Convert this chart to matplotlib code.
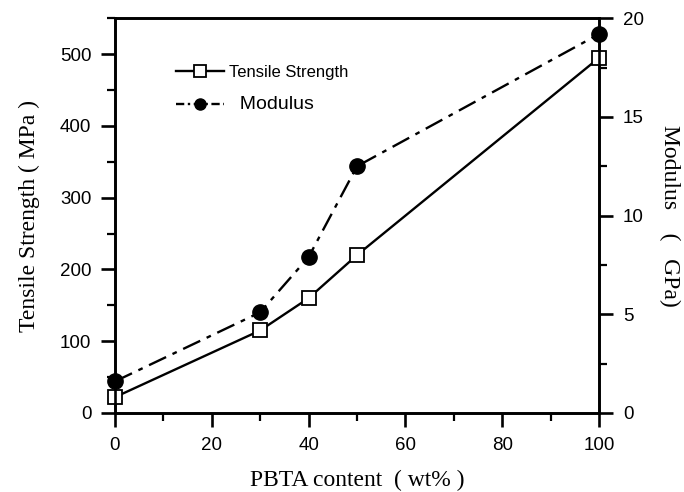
import matplotlib.pyplot as plt
from matplotlib.ticker import MultipleLocator

pbta = [0, 30, 40, 50, 100]
tensile = [22, 115, 160, 220, 495]
modulus = [1.6, 5.1, 7.9, 12.5, 19.2]

serif = "Liberation Serif"
sans = "Liberation Sans"


def main():
    fig = plt.figure(figsize=(6.84, 4.92), dpi=100)
    ax = fig.add_axes([0.168, 0.1606, 0.708, 0.8024])
    ax2 = ax.twinx()

    ax.plot(pbta, tensile, color='black', lw=1.7, marker='s', ms=10,
            mfc='white', mec='black', mew=1.3, clip_on=False, zorder=5,
            label='Tensile Strength')
    ax2.plot(pbta, modulus, color='black', lw=1.7, ls=(0, (8, 3, 2, 3)),
             marker='o', ms=11, mfc='black', clip_on=False, zorder=5,
             label='  Modulus')

    ax.set_xlim(0, 100)
    ax.set_ylim(0, 550)
    ax2.set_ylim(0, 20)

    ax.xaxis.set_major_locator(MultipleLocator(20))
    ax.xaxis.set_minor_locator(MultipleLocator(10))
    ax.yaxis.set_major_locator(MultipleLocator(100))
    ax.yaxis.set_minor_locator(MultipleLocator(50))
    ax2.yaxis.set_major_locator(MultipleLocator(5))
    ax2.yaxis.set_minor_locator(MultipleLocator(2.5))

    for a in (ax, ax2):
        a.tick_params(which='major', direction='out', length=10, width=1.9,
                      labelsize=13.5, pad=7)
        a.tick_params(which='minor', direction='out', length=6, width=1.6)
        for s in a.spines.values():
            s.set_linewidth(1.9)
        for lab in a.get_xticklabels() + a.get_yticklabels():
            lab.set_family(sans)

    ax.set_xlabel("PBTA content  ( wt% )", family=serif, fontsize=17,
                  labelpad=12)
    ax.set_ylabel("Tensile Strength ( MPa )", family=serif, fontsize=17,
                  labelpad=14)
    ax2.set_ylabel("Modulus    (   GPa)", family=serif, fontsize=17,
                   rotation=270, labelpad=26)

    h1, l1 = ax.get_legend_handles_labels()
    h2, l2 = ax2.get_legend_handles_labels()
    leg = ax.legend(h1 + h2, l1 + l2, loc='upper left',
                    bbox_to_anchor=(0.095, 0.92), frameon=False,
                    handlelength=2.9, prop={'family': sans, 'size': 12},
                    labelspacing=1.0, handletextpad=0.3)
    for h in leg.legend_handles:
        h.set_markersize(8)
    leg.legend_handles[1].set_linestyle((0, (3.5, 1.5, 1, 1.5)))
    leg.get_texts()[1].set_fontsize(14)

    fig.savefig("out.png", dpi=100)


if __name__ == "__main__":
    main()
